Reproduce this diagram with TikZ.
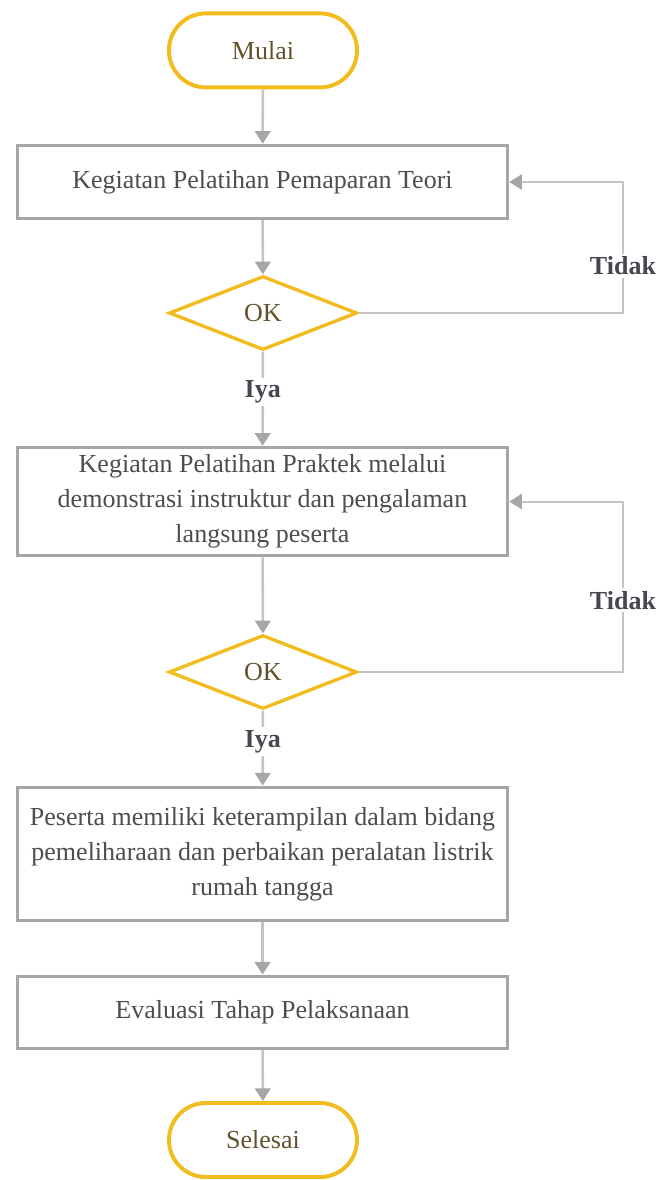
\documentclass[tikz,border=0pt]{standalone}
\usepackage{fontspec}
\setmainfont{Liberation Serif}
\usetikzlibrary{shapes.geometric, arrows.meta}

\definecolor{kuning}{HTML}{F2BC1E}
\definecolor{abu}{HTML}{A6A6A6}
\definecolor{abumuda}{HTML}{C4C4C4}
\definecolor{teksemas}{HTML}{62522C}
\definecolor{teksabu}{HTML}{4D4D4D}
\definecolor{teksket}{HTML}{474752}

\tikzset{
  terminal/.style={rectangle, rounded corners=0.92cm, draw=kuning, line width=2.8pt,
    minimum width=4.7cm, minimum height=1.85cm, text=teksemas},
  proses/.style={rectangle, draw=abu, line width=2.6pt, minimum width=12.25cm,
    inner xsep=2pt, align=center, text=teksabu},
  keputusan/.style={diamond, draw=kuning, line width=2.4pt, minimum width=4.7cm,
    minimum height=1.85cm, inner sep=0pt, text=teksemas},
  alur/.style={draw=abumuda, line width=1.8pt, -{Triangle[width=11pt,length=9pt,color=abu]}},
  balik/.style={draw=abumuda, line width=1.3pt, -{Triangle[width=11pt,length=9pt,color=abu]}},
  ket/.style={fill=white, font=\fontsize{18.5}{25}\selectfont\bfseries, text=teksket, inner sep=2pt}
}

\begin{document}
\begin{tikzpicture}[font=\fontsize{18.5}{25}\selectfont]
    \useasboundingbox (0,0) rectangle (16.5,-29.5);

    % Nodes of the flow
    \node[terminal] (mulai) at (6.575,-1.26) {Mulai};
    \node[proses, minimum height=1.82cm] (teori) at (6.5625,-4.55) {Kegiatan Pelatihan Pemaparan Teori};
    \node[keputusan] (ok1) at (6.575,-7.825) {OK};
    \node[proses, minimum height=2.7cm] (praktek) at (6.5625,-12.54) {Kegiatan Pelatihan Praktek melalui\\demonstrasi instruktur dan pengalaman\\langsung peserta};
    \node[keputusan] (ok2) at (6.575,-16.8) {OK};
    \node[proses, minimum height=3.33cm] (terampil) at (6.5625,-21.35) {Peserta memiliki keterampilan dalam bidang\\pemeliharaan dan perbaikan peralatan listrik\\rumah tangga};
    \node[proses, minimum height=1.8cm] (evaluasi) at (6.5625,-25.31) {Evaluasi Tahap Pelaksanaan};
    \node[terminal] (selesai) at (6.575,-28.5) {Selesai};

    % Rail for the loops back
    \coordinate (rel) at (15.575,0);

    % Main arrows
    \draw[alur] (mulai) -- (teori);
    \draw[alur] (teori) -- (ok1);
    \draw[alur] (ok1) -- node[ket, pos=0.43] {Iya} (praktek);
    \draw[alur] (praktek) -- (ok2);
    \draw[alur] (ok2) -- node[ket, pos=0.41] {Iya} (terampil);
    \draw[alur] (terampil) -- (evaluasi);
    \draw[alur] (evaluasi) -- (selesai);

    % Loops back
    \draw[balik] (ok1.east) -| node[ket, pos=0.68] {Tidak} (rel |- teori.east) -- (teori.east);
    \draw[balik] (ok2.east) -| node[ket, pos=0.71] {Tidak} (rel |- praktek.east) -- (praktek.east);
  \end{tikzpicture}
\end{document}
